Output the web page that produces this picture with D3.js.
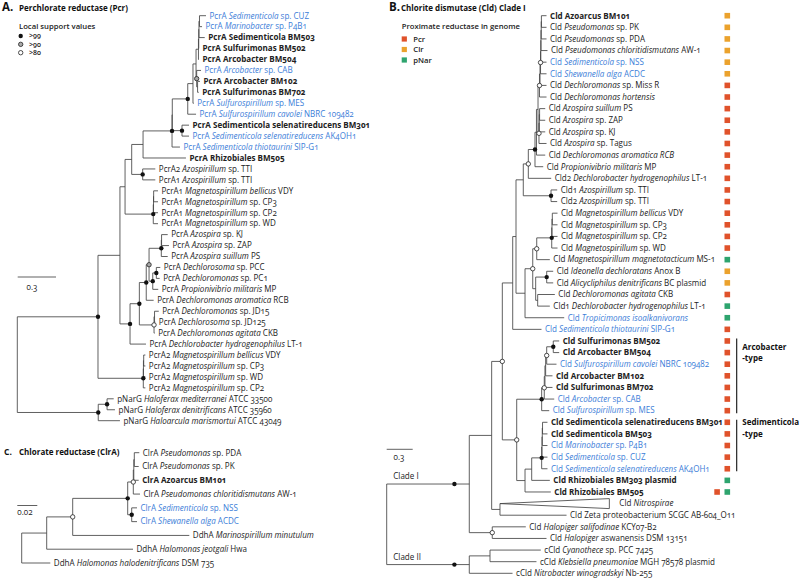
<!DOCTYPE html>
<html><head><meta charset="utf-8">
<script src="https://cdn.jsdelivr.net/npm/d3@7/dist/d3.min.js"></script>
<style>
html,body{margin:0;padding:0;background:#fff;}
svg{display:block;font-family:"Open Sans",sans-serif;font-variant-numeric:oldstyle-nums;white-space:pre;}
</style></head><body>
<svg id="chart" width="800" height="580"></svg>
<script>
// ================= DATA =================
// Internal nodes: [id, parentId, depth from root (substitutions/site)]
// Tips (top→bottom): [parentId, depth, label (*italic*), style: b=bold, u=blue, c=collapsed]
// Support: [nodeId, level (3:>99, 2:>90, 1:>80), position along incoming branch (1 = at node)]

// ---- A. Perchlorate reductase (Pcr) ----
const pcrNodes = [
  ["rA","",0],["N1","rA",0.632],["P1","rA",0.634],["P2","P1",0.703],
  ["NA","N1",0.804],["M2c","N1",0.987],["M2b","M2c",0.988],["M2a","M2b",0.990],
  ["NB","NA",0.844],["ND","NA",0.883],["NC","NB",0.896],
  ["M1c","NB",1.065],["M1b","M1c",1.067],["M1a","M1b",1.068],
  ["n143","NC",0.985],["AzP","NC",0.982],["n172","n143",1.212],["n172i","n172",1.214],
  ["D1","n172i",1.335],["BMp","n172i",1.290],["F","D1",1.376],["E","F",1.400],
  ["g1d","E",1.419],["g1c","g1d",1.421],["g1b","g1c",1.423],["g1a","g1b",1.427],
  ["g2","E",1.405],["g2i","g2",1.412],
  ["NE","ND",0.956],["NF","NE",1.010],["NG","NE",1.071],["NGi","NG",1.075],
  ["NH","NF",1.032],["NI","NH",1.128],["NIi","NI",1.130],["NJ","NH",1.061],["NK","NJ",1.089]
];
const pcrTips = [
  ["g1a",1.478,"PcrA *Sedimenticola* sp. CUZ","u"],
  ["g1a",1.447,"PcrA *Marinobacter* sp. P4B1","u"],
  ["g1b",1.468,"PcrA Sedimenticola BM503","b"],
  ["g1c",1.423,"PcrA Sulfurimonas BM502","b"],
  ["g1d",1.423,"PcrA Arcobacter BM504","b"],
  ["g2",1.439,"PcrA *Arcobacter* sp. CAB","u"],
  ["g2i",1.431,"PcrA Arcobacter BM102","b"],
  ["g2i",1.421,"PcrA Sulfurimonas BM702","b"],
  ["F",1.382,"PcrA *Sulfurospirillum* sp. MES","u"],
  ["D1",1.400,"PcrA *Sulfurospirillum cavolei* NBRC 109482","u"],
  ["BMp",1.345,"PcrA Sedimenticola selenatireducens BM301","b"],
  ["BMp",1.345,"PcrA *Sedimenticola selenatireducens* AK4OH1","u"],
  ["n172",1.274,"PcrA *Sedimenticola thiotaurini* SIP-G1","u"],
  ["n143",1.321,"PcrA Rhizobiales BM505","b"],
  ["AzP",1.081,"PcrA2 *Azospirillum* sp. TTI",""],
  ["AzP",1.081,"PcrA1 *Azospirillum* sp. TTI",""],
  ["M1a",1.102,"PcrA1 *Magnetospirillum bellicus* VDY",""],
  ["M1a",1.102,"PcrA1 *Magnetospirillum* sp. CP3",""],
  ["M1b",1.102,"PcrA1 *Magnetospirillum* sp. CP2",""],
  ["M1c",1.102,"PcrA1 *Magnetospirillum* sp. WD",""],
  ["NIi",1.178,"PcrA *Azospira* sp. KJ",""],
  ["NIi",1.188,"PcrA *Azospira* sp. ZAP",""],
  ["NI",1.178,"PcrA *Azospira suillum* PS",""],
  ["NK",1.120,"PcrA *Dechlorosoma* sp. PCC",""],
  ["NK",1.115,"PcrA *Dechloromonas* sp. PC1",""],
  ["NJ",1.104,"PcrA *Propionivibrio militaris* MP",""],
  ["NF",1.068,"PcrA *Dechloromonas aromatica* RCB",""],
  ["NGi",1.108,"PcrA *Dechloromonas* sp. JD15",""],
  ["NGi",1.081,"PcrA *Dechlorosoma* sp. JD125",""],
  ["NG",1.076,"PcrA *Dechloromonas agitata* CKB",""],
  ["ND",1.008,"PcrA *Dechlorobacter hydrogenophilus* LT-1",""],
  ["M2a",1.003,"PcrA2 *Magnetospirillum bellicus* VDY",""],
  ["M2a",1.003,"PcrA2 *Magnetospirillum* sp. CP3",""],
  ["M2b",1.003,"PcrA2 *Magnetospirillum* sp. WD",""],
  ["M2c",1.003,"PcrA2 *Magnetospirillum* sp. CP2",""],
  ["P2",0.755,"pNarG *Haloferax mediterranei* ATCC 33500",""],
  ["P2",0.765,"pNarG *Haloferax denitrificans* ATCC 35960",""],
  ["P1",0.804,"pNarG *Haloarcula marismortui* ATCC 43049",""]
];
const pcrSupport = [
  ["N1",3,1],["NE",3,1],["ND",3,1],["NF",3,1],["NI",3,1],["NJ",3,1],["NK",3,1],
  ["M1c",3,1],["AzP",3,1],["n172",3,1],["BMp",3,1],["D1",3,1],["M2c",3,1],["P1",3,1],["P2",3,1],
  ["NH",2,1],["g2",2,1],["NG",1,1]
];

// ---- B. Chlorite dismutase (Cld) ----
const cldNodes = [
  ["rB","",0],["CI","rB",0.953],["CII","rB",0.953],["CyKl","CII",1.192],
  ["HaloN","CI",1.218],["B1","CI",1.211],["NZ","B1",1.307],["B2","B1",1.334],
  ["X","B2",1.454],["B4","B2",1.500],["V2","X",1.492],["V","V2",1.576],["Y","V2",1.596],
  ["U1","V",1.634],["TTI","V",1.896],["U0","U1",1.711],["URCB","U0",1.728],["TopAzo","URCB",1.746],
  ["T8","TopAzo",1.763],["T7","T8",1.769],["T6","T7",1.775],["T5","T6",1.778],
  ["T4","T5",1.780],["T3","T4",1.783],["T2","T3",1.785],
  ["Azo","TopAzo",1.757],["Az2","Azo",1.761],["Az1","Az2",1.764],
  ["Z","Y",1.685],["MgA","Z",1.731],["Mag3","MgA",1.904],["Mag2","Mag3",1.907],["Mag1","Mag2",1.911],
  ["W","Z",1.719],["Ideo","W",1.846],["CKBLT","W",1.742],
  ["B5","B4",1.788],["A4","B5",1.818],["A3","A4",1.826],["A2","A3",1.834],["Arco2","A2",1.846],["Arco1","Arco2",1.922],
  ["B6","B4",1.596],["B7","B6",1.673],["B8","B7",1.788],["B8c","B8",1.792],["B8b","B8c",1.795],["B8a","B8b",1.798]
];
const cldTips = [
  ["T2",1.844,"Cld Azoarcus BM101","b"],
  ["T2",1.844,"Cld *Pseudomonas* sp. PK",""],
  ["T3",1.844,"Cld *Pseudomonas* sp. PDA",""],
  ["T4",1.855,"Cld *Pseudomonas chloritidismutans* AW-1",""],
  ["T5",1.844,"Cld *Sedimenticola* sp. NSS","u"],
  ["T6",1.844,"Cld *Shewanella alga* ACDC","u"],
  ["T7",1.844,"Cld *Dechloromonas* sp. Miss R",""],
  ["T8",1.844,"Cld *Dechloromonas hortensis*",""],
  ["Az1",1.829,"Cld *Azospira suillum* PS",""],
  ["Az1",1.829,"Cld *Azospira* sp. ZAP",""],
  ["Az2",1.829,"Cld *Azospira* sp. KJ",""],
  ["Azo",1.844,"Cld *Azospira* sp. Tagus",""],
  ["URCB",1.829,"Cld *Dechloromonas aromatica RCB*",""],
  ["U0",1.806,"Cld *Propionivibrio militaris* MP",""],
  ["U1",1.898,"Cld2 *Dechlorobacter hydrogenophilus* LT-1",""],
  ["TTI",1.967,"Cld1 *Azospirillum* sp. TTI",""],
  ["TTI",1.967,"Cld2 *Azospirillum* sp. TTI",""],
  ["Mag1",1.971,"Cld *Magnetospirillum bellicus* VDY",""],
  ["Mag1",1.971,"Cld *Magnetospirillum* sp. CP3",""],
  ["Mag2",1.971,"Cld *Magnetospirillum* sp. CP2",""],
  ["Mag3",1.971,"Cld *Magnetospirillum* sp. WD",""],
  ["MgA",1.882,"Cld *Magnetospirillum magnetotacticum* MS-1",""],
  ["Ideo",1.921,"Cld *Ideonella dechloratans* Anox B",""],
  ["Ideo",1.921,"Cld *Alicycliphilus denitrificans* BC plasmid",""],
  ["CKBLT",1.940,"Cld *Dechloromonas agitata* CKB",""],
  ["CKBLT",1.882,"Cld1 *Dechlorobacter hydrogenophilus* LT-1",""],
  ["Y",2.048,"Cld *Tropicimonas isoalkanivorans*","u"],
  ["X",1.786,"Cld *Sedimenticola thiotaurini* SIP-G1","u"],
  ["Arco1",1.990,"Cld Sulfurimonas BM502","b"],
  ["Arco1",1.990,"Cld Arcobacter BM504","b"],
  ["Arco2",1.959,"Cld *Sulfurospirillum cavolei* NBRC 109482","u"],
  ["A2",1.913,"Cld Arcobacter BM102","b"],
  ["A3",1.913,"Cld Sulfurimonas BM702","b"],
  ["A4",1.933,"Cld *Arcobacter* sp. CAB","u"],
  ["B5",1.875,"Cld *Sulfurospirillum* sp. MES","u"],
  ["B8a",1.855,"Cld Sedimenticola selenatireducens BM301","b"],
  ["B8a",1.855,"Cld Sedimenticola BM503","b"],
  ["B8b",1.855,"Cld *Marinobacter* sp. P4B1","u"],
  ["B8c",1.855,"Cld *Sedimenticola* sp. CUZ","u"],
  ["B8",1.855,"Cld *Sedimenticola selenatireducens* AK4OH1","u"],
  ["B7",1.882,"Cld Rhizobiales BM303 plasmid","b"],
  ["B6",1.893,"Cld Rhizobiales BM505","b"],
  ["NZ",2.569,"Cld *Nitrospirae*","c"],
  ["NZ",2.075,"Cld Zeta proteobacterium SCGC AB-604_O11",""],
  ["HaloN",1.605,"Cld *Halopiger salifodinae* KCY07-B2",""],
  ["HaloN",1.844,"Cld *Halopiger* aswanensis DSM 13151",""],
  ["CyKl",1.778,"cCld *Cyanothece* sp. PCC 7425",""],
  ["CyKl",1.728,"cCld *Klebsiella pneumoniae* MGH 78578 plasmid",""],
  ["CII",1.452,"cCld *Nitrobacter winogradskyi* Nb-255",""]
];
const cldSupport = [
  ["CI",3,0.82],["CII",3,0.82],["Arco1",3,1],["B5",3,1],["B8",3,1],["Ideo",3,1],["Mag3",3,1],["TTI",3,1],["U0",3,1],
  ["HaloN",1,1],["B2",1,1],["B4",1,1],["A4",1,1],["Arco2",1,1],["Z",1,1],["MgA",1,1],["U1",1,1],["Azo",1,1],["T8",1,1],["T6",1,1]
];
// Proximate reductase in genome, per tip (P = Pcr, C = Clr, N = pNar)
const cldReductase = ["C","C","C","C","C","C",
  "P","P","P","P","P","P","P","P","P","P","P","P","P","P","P",
  "N","C","C","P","N","N","P",
  "P","P","P","P","P","P","P","P","P","P","P","P",
  "N","PN","","","","","","",""];
const cldGroups = [["Arcobacter","-type",29,35],["Sedimenticola","-type",36,40]];
const cladeLabels = [["Clade I","CI"],["Clade II","CII"]];

// ---- C. Chlorate reductase (ClrA) ----
const clrNodes = [
  ["rC","",0],["C1","rC",0.025],["C2","C1",0.051],["C3","C2",0.106],
  ["C4","C3",0.1116],["C4b","C4",0.1121],["C4a","C4b",0.1126],["C5","C3",0.110]
];
const clrTips = [
  ["C4a",0.1176,"ClrA *Pseudomonas* sp. PDA",""],
  ["C4a",0.117,"ClrA *Pseudomonas* sp. PK",""],
  ["C4b",0.117,"ClrA Azoarcus BM101","b"],
  ["C4",0.1183,"ClrA *Pseudomonas chloritidismutans* AW-1",""],
  ["C5",0.1153,"ClrA *Sedimenticola* sp. NSS","u"],
  ["C5",0.1153,"ClrA *Shewanella alga* ACDC","u"],
  ["C2",0.1676,"DdhA *Marinospirillum minutulum*",""],
  ["C1",0.1113,"DdhA *Halomonas jeotgali* Hwa",""],
  ["rC",0.0286,"DdhA *Halomonas halodenitrificans* DSM 735",""]
];
const clrSupport = [["C2",1,1],["C3",3,1],["C4",1,1],["C5",3,1]];

const supportLegend = [[3,">99"],[2,">90"],[1,">80"]];
const reductaseLegend = [["P","Pcr"],["C","Clr"],["N","pNar"]];

// ================= DRAWING =================
const FS = 8.05;
const LINE = "#444", BLUE = "#3b7dd8", TXT = "#222";
const redColor = d3.scaleOrdinal().domain(["P","C","N"]).range(["#e0522b","#eba22d","#2ea46e"]);
const svg = d3.select("#chart");

function rich(sel, label){
  label.split("*").forEach((part,i)=>{ if(part) sel.append("tspan").attr("font-style", i%2 ? "italic" : null).text(part); });
}
function dot(g, cx, cy, level){
  g.append("circle").attr("cx",cx).attr("cy",cy).attr("r",2.2)
    .attr("fill", level===3 ? "#111" : level===2 ? "#a8a8a8" : "#fff")
    .attr("stroke", "#222").attr("stroke-width", level===3 ? 0 : 0.8);
}

function drawTree(nodes, tips, support, o){
  const rows = nodes.map(d=>({id:d[0], parent:d[1]||null, depth:d[2]}))
    .concat(tips.map((d,i)=>({id:"tip"+i, parent:d[0], depth:d[1], label:d[2], style:d[3], idx:i})));
  const root = d3.stratify().id(d=>d.id).parentId(d=>d.parent)(rows);
  const x = d3.scaleLinear().domain([0,1]).range([o.x0, o.x0 + o.ppu]);
  const y = d3.scaleLinear().domain([0, tips.length-1]).range([o.y0, o.y1]);
  root.eachAfter(n=>{
    n.px = x(n.data.depth);
    if(!n.children) n.py = y(n.data.idx);
    else { const ys = n.children.map(c=>c.py); n.py = (d3.min(ys)+d3.max(ys))/2; }
  });
  const g = svg.append("g");
  const lines = g.append("g").attr("fill","none").attr("stroke",LINE).attr("stroke-width",0.85);
  root.each(n=>{
    if(n.children){
      const ys = n.children.map(c=>c.py);
      lines.append("path").attr("d",`M${n.px},${d3.min(ys)}V${d3.max(ys)}`);
    }
    if(n.parent){
      if(n.data.style==="c"){
        lines.append("path").attr("d",`M${n.parent.px},${n.py}L${n.px},${n.py-5}V${n.py+5}Z`);
      } else if(n.px > n.parent.px){
        lines.append("path").attr("d",`M${n.parent.px},${n.py}H${n.px}`);
      }
    }
  });
  const labels = g.append("g").attr("font-size",FS);
  root.leaves().forEach(n=>{
    const st = n.data.style || "";
    const t = labels.append("text").attr("x", n.px + (st==="c" ? 10 : 3.5)).attr("y", n.py).attr("dy","0.35em")
      .attr("fill", st.includes("u") ? BLUE : TXT)
      .attr("font-weight", st.includes("b") ? 700 : null);
    rich(t, n.data.label);
  });
  const byId = new Map(root.descendants().map(n=>[n.id,n]));
  const dg = g.append("g");
  support.forEach(([id, lvl, pos])=>{
    const n = byId.get(id);
    const cx = n.parent ? n.parent.px + (n.px - n.parent.px)*pos : n.px;
    dot(dg, cx, n.py, lvl);
  });
  return {root, x, y, byId};
}

function scaleBar(tree, x0, yy, len, label, lx, ly){
  const w = tree.x(len) - tree.x(0);
  svg.append("path").attr("d",`M${x0},${yy}H${x0+w}`).attr("stroke",LINE).attr("stroke-width",0.85);
  svg.append("text").attr("x",lx).attr("y",ly).attr("font-size",FS).attr("fill",TXT).text(label);
}
function title(letter, lx, text, tx, ty, big){
  svg.append("text").attr("x",lx).attr("y",ty).attr("font-size",big).attr("font-weight",700).attr("fill","#111").text(letter);
  svg.append("text").attr("x",tx).attr("y",ty).attr("font-size",8).attr("font-weight",700).attr("fill","#111").text(text);
}

// ---- Panel A ----
const tA = drawTree(pcrNodes, pcrTips, pcrSupport, {x0:17.3, ppu:127.67, y0:15.7, y1:420.7});
title("A.", 2, "Perchlorate reductase (Pcr)", 19, 11, 11.5);
svg.append("text").attr("x",19).attr("y",28.6).attr("font-size",7.7).attr("font-weight",600).attr("fill",TXT).text("Local support values");
supportLegend.forEach(([lvl,lab],i)=>{
  const yy = 36 + i*8.35;
  dot(svg, 20.7, yy, lvl);
  svg.append("text").attr("x",29).attr("y",yy).attr("dy","0.35em").attr("font-size",7).attr("font-weight",600).attr("fill",TXT).text(lab);
});
scaleBar(tA, 17.7, 277, 0.3, "0.3", 26.5, 290);

// ---- Panel C ----
const tC = drawTree(clrNodes, clrTips, clrSupport, {x0:21.7, ppu:1000, y0:452.7, y1:563});
title("C.", 4, "Chlorate reductase (ClrA)", 19, 454.7, 8.5);
scaleBar(tC, 17.3, 505.5, 0.02, "0.02", 17.3, 515);

// ---- Panel B ----
const tB = drawTree(cldNodes, cldTips, cldSupport, {x0:386.7, ppu:86.67, y0:15.7, y1:573.3});
title("B.", 389, "Chlorite dismutase (Cld) Clade I", 401, 11, 11.5);
svg.append("text").attr("x",401.7).attr("y",29.3).attr("font-size",7.7).attr("font-weight",600).attr("fill",TXT).text("Proximate reductase in genome");
reductaseLegend.forEach(([k,lab],i)=>{
  const yy = 39 + i*10.5;
  svg.append("rect").attr("x",401.7).attr("y",yy-2.6).attr("width",5.2).attr("height",5.2).attr("fill",redColor(k));
  svg.append("text").attr("x",413.3).attr("y",yy).attr("dy","0.35em").attr("font-size",7.7).attr("font-weight",600).attr("fill",TXT).text(lab);
});
cldReductase.forEach((codes,i)=>{
  const yy = tB.y(i);
  codes.split("").reverse().forEach((k,j)=>{
    svg.append("rect").attr("x",724.5 - j*10.2).attr("y",yy-2.8).attr("width",5.6).attr("height",5.6).attr("fill",redColor(k));
  });
});
cldGroups.forEach(([l1,l2,a,b])=>{
  svg.append("path").attr("d",`M736.7,${tB.y(a-1)-2.5}V${tB.y(b-1)+2.5}`).attr("stroke","#111").attr("stroke-width",1.1);
  const base = (l1==="Arcobacter") ? a-1+0.5 : a-1;
  [l1,l2].forEach((t,k)=>svg.append("text").attr("x",742.3).attr("y",tB.y(base+k)).attr("dy","0.35em")
    .attr("font-size",8).attr("font-weight",700).attr("fill","#111").text(t));
});
cladeLabels.forEach(([lab,id])=>{
  const n = tB.byId.get(id);
  svg.append("text").attr("x",393.3).attr("y",n.py-5).attr("font-size",FS).attr("fill",TXT).text(lab);
});
scaleBar(tB, 386.7, 449.3, 0.3, "0.3", 393.5, 460);
</script>
</body></html>
